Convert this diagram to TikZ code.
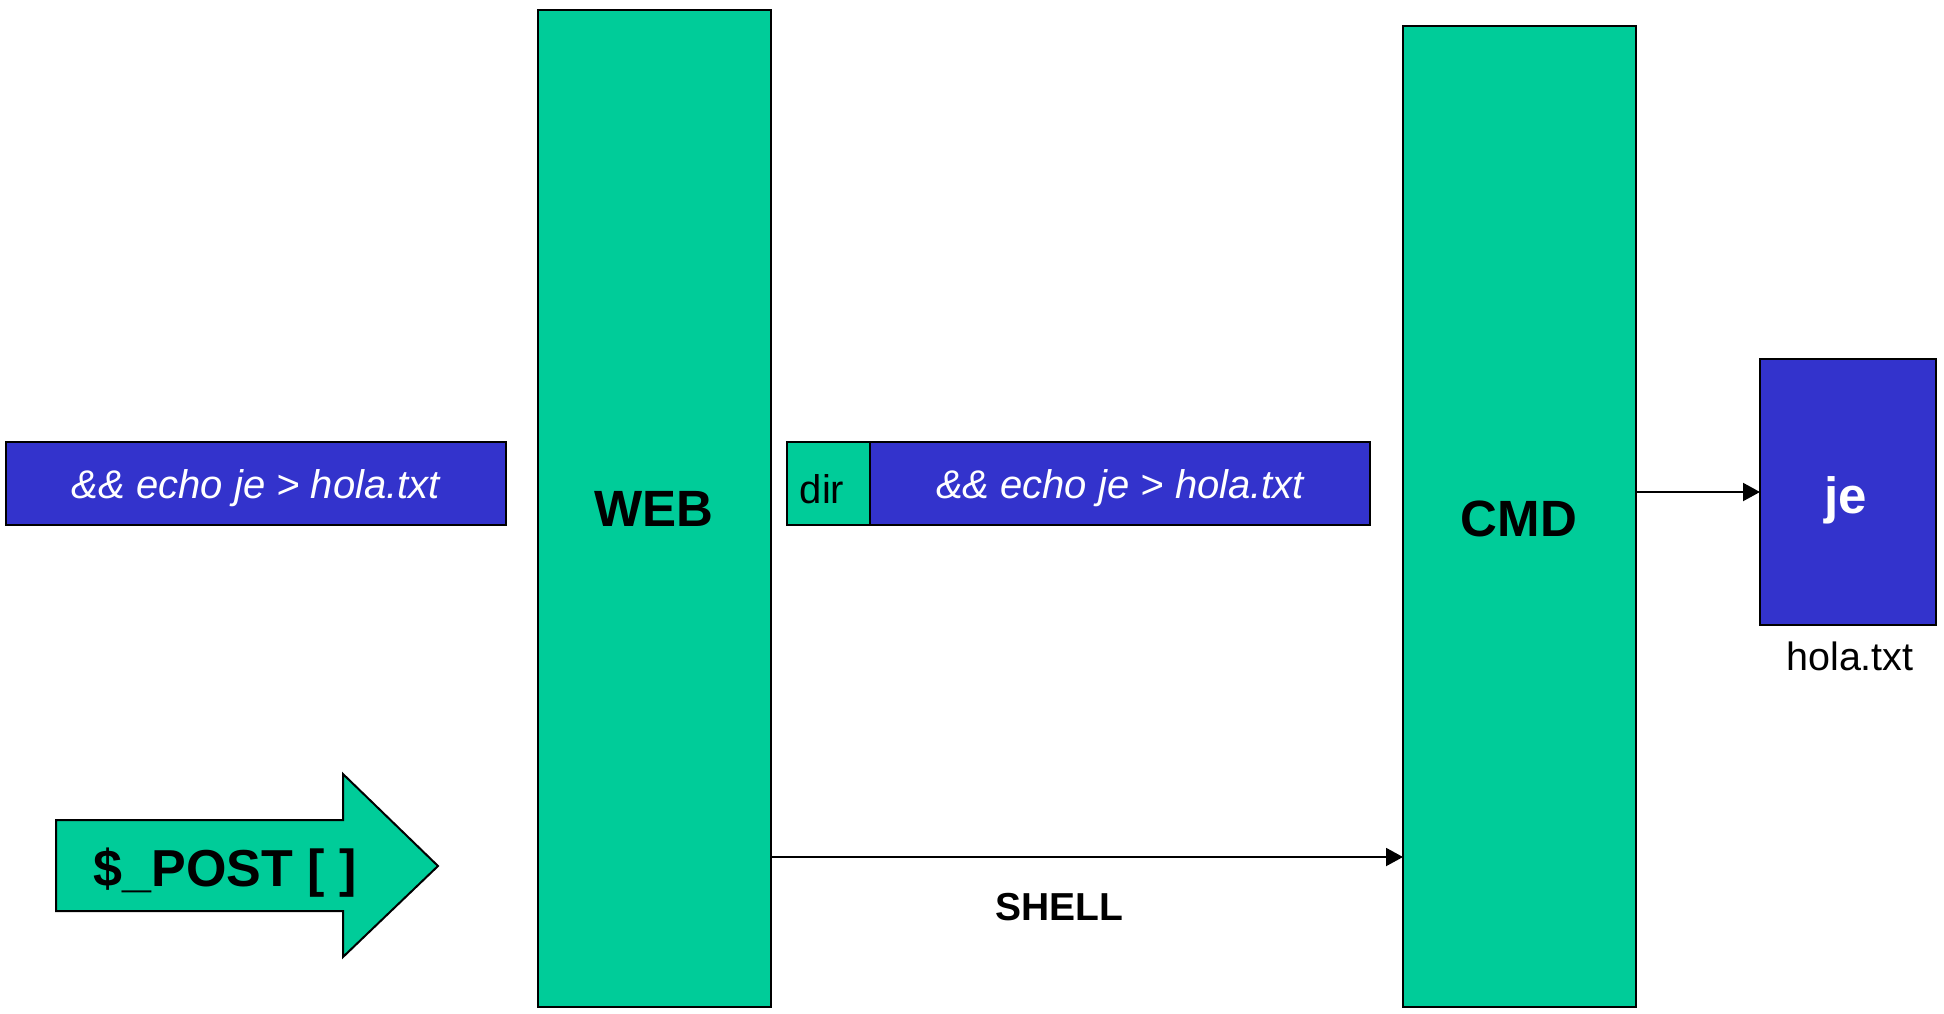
\documentclass[tikz,border=0pt]{standalone}
\usepackage{fontspec}
\setmainfont{Liberation Sans}
\usetikzlibrary{arrows.meta}
\definecolor{boxgreen}{RGB}{0,204,153}
\definecolor{boxblue}{RGB}{51,51,204}
\tikzset{
  panel/.style={draw=black, line width=1pt, inner sep=0pt, outer sep=0pt, anchor=north west},
  greenpanel/.style={panel, fill=boxgreen},
  bluepanel/.style={panel, fill=boxblue},
  cmdtext/.style={anchor=base, inner sep=0pt, font=\fontsize{20}{24}\selectfont\itshape, text=white},
  bigbold/.style={anchor=base, inner sep=0pt, font=\fontsize{25.5}{30}\selectfont\bfseries},
  conn/.style={draw=black, line width=1pt, -{Triangle[length=8.5pt,width=9pt]}}
}
\begin{document}
\begin{tikzpicture}[x=0.5pt, y=-0.5pt]
  \useasboundingbox (0,0) rectangle (1944,1013);

  % request body typed into the form
  \node[bluepanel, minimum width=250pt, minimum height=41.5pt] (inbox) at (6,442) {};
  \node[cmdtext] (intxt) at (256,498) {\&\& echo je > hola.txt};

  % POST arrow
  \draw[fill=boxgreen, line width=1pt, line join=miter]
    (56,820) -- (343,820) -- (343,774) -- (438,866) -- (343,957) -- (343,911) -- (56,911) -- cycle;
  \node[anchor=base, inner sep=0pt, font=\fontsize{26}{30}\selectfont\bfseries] (post) at (225,886) {\$\_POST [ ]};

  % web server column
  \node[greenpanel, minimum width=116.5pt, minimum height=498.5pt] (web) at (538,10) {};
  \node[bigbold] (webtxt) at (654,526.7) {WEB};

  % command string built by the server
  \node[greenpanel, minimum width=41.5pt, minimum height=41.5pt] (dirbox) at (787,442) {};
  \node[anchor=base, inner sep=0pt, font=\fontsize{20}{24}\selectfont] (dirtxt) at (822,503) {dir};
  \node[bluepanel, minimum width=250pt, minimum height=41.5pt] (argbox) at (870,442) {};
  \node[cmdtext] (argtxt) at (1120,498) {\&\& echo je > hola.txt};

  % command interpreter column
  \node[greenpanel, minimum width=116.5pt, minimum height=490.5pt] (cmd) at (1403,26) {};
  \node[bigbold] (cmdlbl) at (1519,536.7) {CMD};

  % resulting file
  \node[bluepanel, minimum width=88pt, minimum height=133pt] (file) at (1760,359) {};
  \node[bigbold, text=white] (filetxt) at (1846,513.3) {je};
  \node[anchor=base, inner sep=0pt, font=\fontsize{19.75}{24}\selectfont] (fname) at (1850,670.7) {hola.txt};

  % connectors
  \coordinate (shellA) at (771,857);
  \draw[conn] (web.east |- shellA) -- (cmd.west |- shellA);
  \node[anchor=base, inner sep=0pt, font=\fontsize{19.5}{24}\selectfont\bfseries] (shell) at (1059.5,920) {SHELL};
  \draw[conn] (file.west -| cmd.east) -- (file.west);
\end{tikzpicture}
\end{document}
